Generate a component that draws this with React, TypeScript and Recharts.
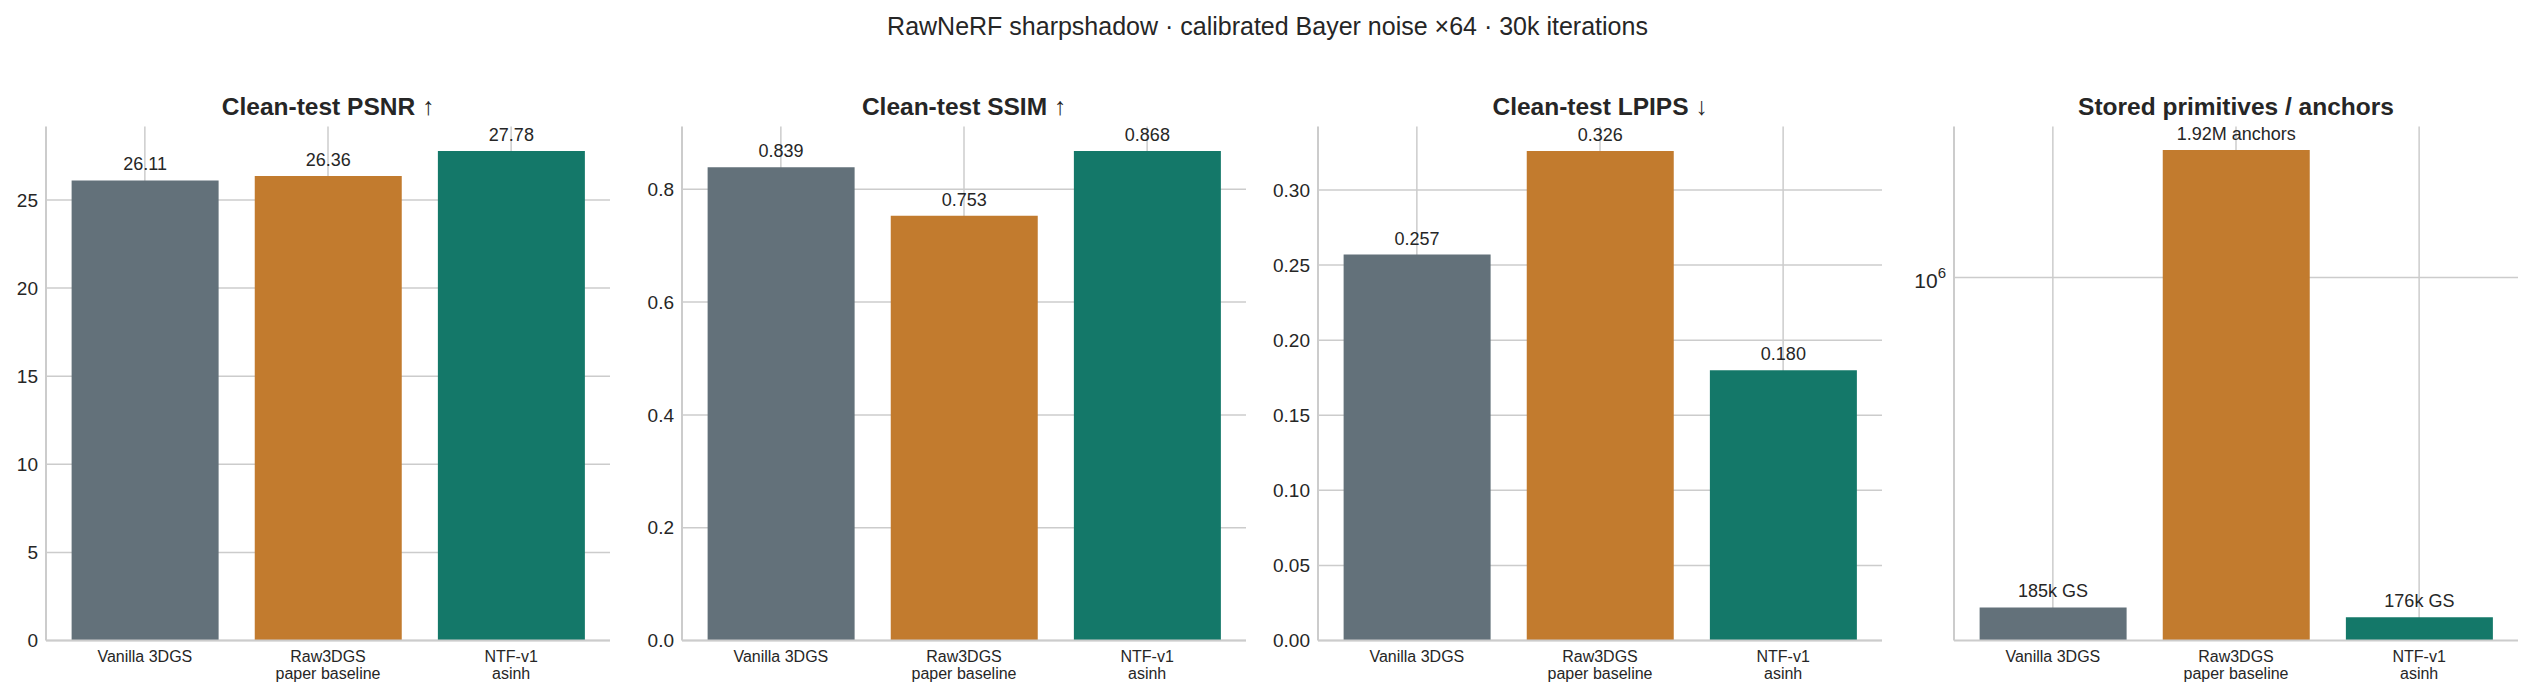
import { BarChart, Bar, XAxis, YAxis, CartesianGrid, Cell, LabelList } from "recharts";

const methods = ["Vanilla 3DGS", "Raw3DGS\npaper baseline", "NTF-v1\nasinh"];
const colors = ["#63717A", "#C27B2E", "#147869"];

const psnr = [26.11, 26.36, 27.78];
const ssim = [0.839, 0.753, 0.868];
const lpips = [0.257, 0.326, 0.18];
const primitives = [185000, 1920000, 176000];
const primitiveLabels = ["185k GS", "1.92M anchors", "176k GS"];

const psnrTicks = [0, 5, 10, 15, 20, 25];
const ssimTicks = [0, 0.2, 0.4, 0.6, 0.8];
const lpipsTicks = [0, 0.05, 0.1, 0.15, 0.2, 0.25, 0.3];
const primitiveTicks = [1000000];

const FONT = "'Liberation Sans', Arial, sans-serif";
const TEXT = "#262626";
const GRID = "#cccccc";

const PANEL_LEFT = [46, 682, 1318, 1954];
const PLOT_W = 564;
const PLOT_TOP = 126.5;
const PLOT_BOTTOM = 640.5;
const Y_AXIS_W = 46;
const CHART_W = Y_AXIS_W + PLOT_W + 10;
const H = 696;

const XTick = ({ x, y, payload }: any) => {
  const lines = String(payload.value).split("\n");
  return (
    <text x={x} y={y} textAnchor="middle" fill={TEXT} fontSize={16} fontFamily={FONT}>
      {lines.map((l, i) => (
        <tspan key={i} x={x} dy={i === 0 ? 21 : 17.5}>
          {l}
        </tspan>
      ))}
    </text>
  );
};

const LogTick = ({ x, y }: any) => (
  <text x={x} y={y + 11} textAnchor="end" fill={TEXT} fontFamily={FONT}>
    <tspan fontSize={21}>10</tspan>
    <tspan fontSize={15} dy={-10}>6</tspan>
  </text>
);

const renderLabel = (props: any) => {
  const { x, y, width, value } = props;
  return (
    <text
      x={Number(x) + Number(width) / 2}
      y={Number(y) - 10}
      textAnchor="middle"
      fill={TEXT}
      fontSize={18}
      fontFamily={FONT}
    >
      {value}
    </text>
  );
};

function Panel({
  left,
  values,
  labels,
  ticks,
  domain,
  format,
  log,
}: {
  left: number;
  values: number[];
  labels: string[];
  ticks: number[];
  domain: [number, number];
  format?: (v: number) => string;
  log?: boolean;
}) {
  const data = methods.map((name, i) => ({ name, value: values[i], label: labels[i] }));
  return (
    <div style={{ position: "absolute", left: left - Y_AXIS_W, top: 0 }}>
      <BarChart
        width={CHART_W}
        height={H}
        data={data}
        barCategoryGap="10%"
        margin={{ top: PLOT_TOP, right: 10, bottom: 0, left: 0 }}
      >
        <CartesianGrid stroke={GRID} strokeWidth={1.5} syncWithTicks />
        <XAxis
          dataKey="name"
          interval={0}
          height={H - PLOT_BOTTOM}
          padding={{ left: 7.3, right: 7.3 }}
          axisLine={{ stroke: GRID, strokeWidth: 2 }}
          tickLine={false}
          tickSize={0}
          tickMargin={0}
          tick={<XTick />}
        />
        <YAxis
          type="number"
          width={Y_AXIS_W}
          scale={log ? "log" : "linear"}
          domain={domain}
          allowDataOverflow
          ticks={ticks}
          interval={0}
          axisLine={{ stroke: GRID, strokeWidth: 2 }}
          tickLine={false}
          tickSize={0}
          tickMargin={8}
          tickFormatter={format}
          tick={log ? <LogTick /> : { fill: TEXT, fontSize: 19, fontFamily: FONT }}
        />
        <Bar dataKey="value" isAnimationActive={false}>
          {data.map((d, i) => (
            <Cell key={d.name} fill={colors[i]} />
          ))}
          <LabelList dataKey="label" content={renderLabel} />
        </Bar>
      </BarChart>
    </div>
  );
}

const titles = ["Clean-test PSNR ↑", "Clean-test SSIM ↑", "Clean-test LPIPS ↓", "Stored primitives / anchors"];

export default function App() {
  return (
    <div
      style={{
        position: "absolute",
        left: 0,
        top: 0,
        width: 2535,
        height: H,
        background: "#ffffff",
        overflow: "hidden",
      }}
    >
      <Panel
        left={PANEL_LEFT[0]}
        values={psnr}
        labels={psnr.map((v) => v.toFixed(2))}
        ticks={psnrTicks}
        domain={[0, Math.max(...psnr) * 1.05]}
        format={(v) => String(v)}
      />
      <Panel
        left={PANEL_LEFT[1]}
        values={ssim}
        labels={ssim.map((v) => v.toFixed(3))}
        ticks={ssimTicks}
        domain={[0, Math.max(...ssim) * 1.05]}
        format={(v) => v.toFixed(1)}
      />
      <Panel
        left={PANEL_LEFT[2]}
        values={lpips}
        labels={lpips.map((v) => v.toFixed(3))}
        ticks={lpipsTicks}
        domain={[0, Math.max(...lpips) * 1.05]}
        format={(v) => v.toFixed(2)}
      />
      <Panel
        left={PANEL_LEFT[3]}
        values={primitives}
        labels={primitiveLabels}
        ticks={primitiveTicks}
        domain={[156200, 2164000]}
        log
      />
      <svg
        width={2535}
        height={H}
        style={{ position: "absolute", left: 0, top: 0, pointerEvents: "none" }}
      >
        <text x={1267.5} y={35} textAnchor="middle" fill={TEXT} fontSize={25} fontFamily={FONT}>
          RawNeRF sharpshadow · calibrated Bayer noise ×64 · 30k iterations
        </text>
        {titles.map((t, i) => (
          <text
            key={t}
            x={PANEL_LEFT[i] + PLOT_W / 2}
            y={115}
            textAnchor="middle"
            fill={TEXT}
            fontSize={24.5}
            fontWeight="bold"
            fontFamily={FONT}
          >
            {t}
          </text>
        ))}
      </svg>
    </div>
  );
}
